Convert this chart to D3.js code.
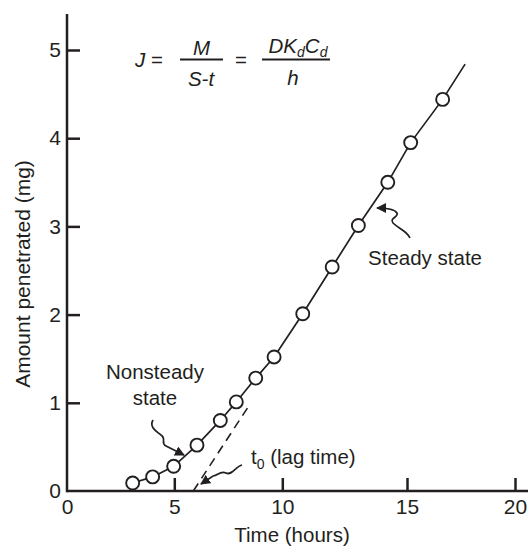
<!DOCTYPE html>
<html><head><meta charset="utf-8">
<script src="https://cdn.jsdelivr.net/npm/d3@7"></script>
<style>
html,body{margin:0;padding:0;background:#fff;}
text{font-family:"Liberation Sans",Arial,Helvetica,sans-serif;fill:#231f20;}
</style></head>
<body>
<script>
// ---- data ----
const xTicks = [0, 5, 10, 15, 20];
const yTicks = [0, 1, 2, 3, 4, 5];
const timeHours = [3.06, 3.99, 4.97, 6.05, 7.13, 7.87, 8.77, 9.62, 10.82, 12.0, 13.05, 14.23, 15.17, 16.65];
const amountMg  = [0.09, 0.16, 0.28, 0.52, 0.80, 1.01, 1.28, 1.52, 2.01, 2.54, 3.01, 3.50, 3.95, 4.44];
const lineEnd = [17.69, 4.84];           // steady-state line continues past last point
const lagLine = [[5.88, 0], [8.41, 0.95]]; // extrapolated steady-state line to t0

const W = 528, H = 548;
const ink = "#231f20";
const FS = 20.5;
const svg = d3.select("body").append("svg").attr("width", W).attr("height", H);

// the printed axis is not evenly spaced; piecewise scale follows the printed ticks
const x = d3.scaleLinear().domain(xTicks).range([67, 174.3, 282.3, 407, 515]);
const y = d3.scaleLinear().domain([0, 5]).range([491, 50]);

// axes
const gx = svg.append("g").attr("transform", `translate(0,${y(0)})`)
  .call(d3.axisBottom(x).tickValues(xTicks).tickFormat(d3.format("d")).tickSize(-13).tickPadding(8).tickSizeOuter(0));
const gy = svg.append("g").attr("transform", `translate(${x(0)},0)`)
  .call(d3.axisLeft(y).tickValues(yTicks).tickFormat(d3.format("d")).tickSize(-13).tickPadding(6).tickSizeOuter(0));
[gx, gy].forEach(g => {
  g.select(".domain").remove();
  g.selectAll(".tick line").attr("stroke", ink).attr("stroke-width", 2.5);
  g.selectAll(".tick text").attr("font-size", 21).attr("fill", ink)
    .style("font-family", '"Liberation Sans",Arial,sans-serif');
});
gx.selectAll(".tick").filter(d => d === 0).select("line").remove();
gy.selectAll(".tick").filter(d => d === 0).select("line").remove();
// axis lines
svg.append("line").attr("x1", x(0)).attr("x2", W).attr("y1", y(0)).attr("y2", y(0))
  .attr("stroke", ink).attr("stroke-width", 2.5);
svg.append("line").attr("x1", x(0)).attr("x2", x(0)).attr("y1", 14).attr("y2", y(0) + 1.25)
  .attr("stroke", ink).attr("stroke-width", 2.5);

// axis titles
svg.append("text").attr("x", 292).attr("y", 542).attr("text-anchor", "middle")
  .attr("font-size", FS).text("Time (hours)");
svg.append("text").attr("transform", "translate(30,274) rotate(-90)").attr("text-anchor", "middle")
  .attr("font-size", 21).text("Amount penetrated (mg)");

// dashed lag-time extrapolation
svg.append("line").attr("x1", x(lagLine[0][0])).attr("y1", y(lagLine[0][1]))
  .attr("x2", x(lagLine[1][0])).attr("y2", y(lagLine[1][1]))
  .attr("stroke", ink).attr("stroke-width", 1.6).attr("stroke-dasharray", "9,6");

// curve through data
const pts = timeHours.map((t, i) => [t, amountMg[i]]);
const linePts = pts.concat([lineEnd]);
svg.append("path").datum(linePts)
  .attr("d", d3.line().x(d => x(d[0])).y(d => y(d[1])))
  .attr("fill", "none").attr("stroke", ink).attr("stroke-width", 1.7);

svg.selectAll("circle.pt").data(pts).join("circle").attr("class", "pt")
  .attr("cx", d => x(d[0])).attr("cy", d => y(d[1])).attr("r", 6.5)
  .attr("fill", "#fff").attr("stroke", ink).attr("stroke-width", 1.9);

// arrowhead marker
svg.append("defs").append("marker").attr("id", "ah").attr("viewBox", "0 0 10 10")
  .attr("refX", 9).attr("refY", 5).attr("markerWidth", 10).attr("markerHeight", 10)
  .attr("markerUnits", "userSpaceOnUse").attr("orient", "auto")
  .append("path").attr("d", "M0,0 L10,5 L0,10 z").attr("fill", ink);

const arrow = d => svg.append("path").attr("d", d).attr("fill", "none")
  .attr("stroke", ink).attr("stroke-width", 1.7).attr("marker-end", "url(#ah)");

// Nonsteady state
svg.append("text").attr("x", 155).attr("y", 379).attr("text-anchor", "middle").attr("font-size", FS).text("Nonsteady");
svg.append("text").attr("x", 155).attr("y", 405).attr("text-anchor", "middle").attr("font-size", FS).text("state");
arrow("M153,420 C149,427 156,431 161,435 C167,439 160,443 166,446 L184,455");

// Steady state
svg.append("text").attr("x", 425).attr("y", 265).attr("text-anchor", "middle").attr("font-size", FS).text("Steady state");
arrow("M410,238 C407,231 399,229 393,223 C389,218 399,217 397,213 C395,210 388,208 377,208");

// t0 (lag time)
const tl = svg.append("text").attr("x", 251).attr("y", 464).attr("font-size", FS);
tl.append("tspan").text("t");
tl.append("tspan").attr("font-size", 14).attr("dy", 5).text("0");
tl.append("tspan").attr("dy", -5).text(" (lag time)");
arrow("M242,465 C236,466 232,476 226,473 C220,470 218,476 213,476 L201,484");

// formula
const f = svg.append("g").attr("font-size", FS);
const J = f.append("text").attr("x", 135).attr("y", 67);
J.append("tspan").attr("font-style", "italic").text("J");
J.append("tspan").text(" =");
f.append("line").attr("x1", 180).attr("x2", 223).attr("y1", 59.5).attr("y2", 59.5).attr("stroke", ink).attr("stroke-width", 1.8);
f.append("text").attr("x", 201.5).attr("y", 55).attr("text-anchor", "middle").attr("font-style", "italic").text("M");
f.append("text").attr("x", 201).attr("y", 86).attr("text-anchor", "middle").attr("font-style", "italic").text("S-t");
f.append("text").attr("x", 241).attr("y", 67).attr("text-anchor", "middle").text("=");
f.append("line").attr("x1", 262).attr("x2", 330).attr("y1", 59.5).attr("y2", 59.5).attr("stroke", ink).attr("stroke-width", 1.8);
const num = f.append("text").attr("x", 298).attr("y", 53).attr("text-anchor", "middle").attr("font-style", "italic");
num.append("tspan").text("DK");
num.append("tspan").attr("font-size", 14).attr("dy", 4).text("d");
num.append("tspan").attr("dy", -4).text("C");
num.append("tspan").attr("font-size", 14).attr("dy", 4).text("d");
f.append("text").attr("x", 293).attr("y", 85).attr("text-anchor", "middle").attr("font-style", "italic").text("h");
</script>
</body></html>
